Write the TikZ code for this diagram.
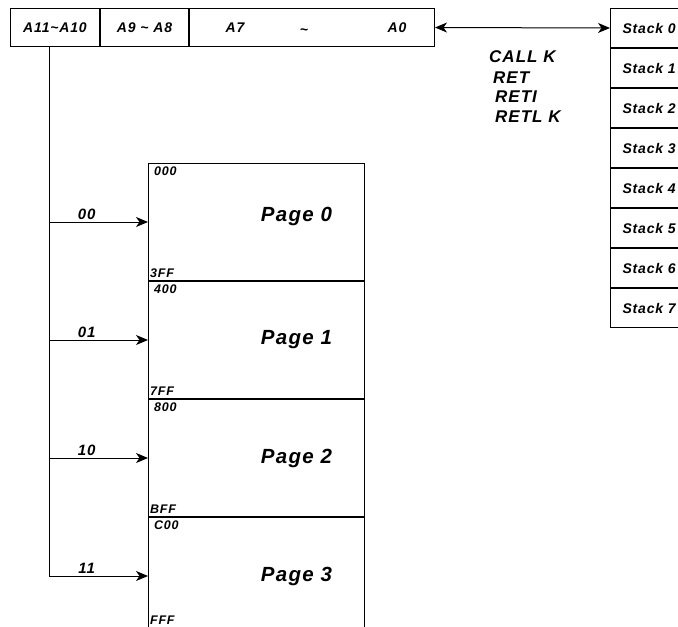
\documentclass[tikz,border=0pt]{standalone}
\usepackage{fontspec}
\setmainfont{Liberation Sans}[LetterSpace=6]
\usetikzlibrary{positioning,arrows.meta}

\begin{document}
\begin{tikzpicture}[x=1pt,y=-1pt]
\tikzstyle{cell}=[rectangle, draw=black, line width=1pt, minimum height=38pt, inner sep=0pt, font=\bfseries\itshape\fontsize{14}{16}\selectfont]
\tikzstyle{regtxt}=[inner sep=0pt, font=\bfseries\itshape\fontsize{14}{16}\selectfont]
\tikzstyle{stackcell}=[rectangle, draw=black, line width=1pt, minimum height=39pt, text width=68pt, inner xsep=12pt, inner ysep=0pt, align=left, font=\bfseries\itshape\fontsize{14}{16}\selectfont]
\tikzstyle{cmd}=[anchor=west, inner sep=0pt, font=\bfseries\itshape\fontsize{17}{19}\selectfont]
\tikzstyle{page}=[rectangle, draw=black, line width=1pt, minimum width=216pt, minimum height=117pt, inner sep=0pt]
\tikzstyle{pglbl}=[inner sep=0pt, font=\bfseries\itshape\fontsize{20.5}{22}\selectfont]
\tikzstyle{addr}=[inner sep=0pt, font=\bfseries\itshape\fontsize{12.5}{14}\selectfont]
\tikzstyle{sel}=[inner sep=2pt, font=\bfseries\itshape\fontsize{15}{17}\selectfont]
\tikzstyle{link}=[line width=1pt, black]
\tikzstyle{tip}=[-{Stealth[length=12pt, width=10pt, inset=3.5pt]}]

  \useasboundingbox (0,0) rectangle (678,627);

  % address register
  \node[cell, minimum width=89pt, anchor=north west] (hi) at (10,8) {A11\textasciitilde A10};
  \node[cell, minimum width=88pt, right=0pt of hi] (mid) {A9 \textasciitilde{} A8};
  \node[cell, minimum width=245pt, right=0pt of mid] (lo) {};
  \node[regtxt] (a7) at ([xshift=46pt]lo.west) {A7};
  \node[regtxt] (tl) at ([xshift=115pt, yshift=-4pt]lo.west) {\textasciitilde};
  \node[regtxt] (a0) at ([xshift=208pt]lo.west) {A0};

  % stack
  \node[stackcell, anchor=north west] (s0) at (610,8) {Stack 0};
  \node[stackcell, below=0pt of s0] (s1) {Stack 1};
  \node[stackcell, below=0pt of s1] (s2) {Stack 2};
  \node[stackcell, below=0pt of s2] (s3) {Stack 3};
  \node[stackcell, below=0pt of s3] (s4) {Stack 4};
  \node[stackcell, below=0pt of s4] (s5) {Stack 5};
  \node[stackcell, below=0pt of s5] (s6) {Stack 6};
  \node[stackcell, below=0pt of s6] (s7) {Stack 7};

  \draw[link, {Stealth[length=12pt, width=10pt, inset=3.5pt]}-{Stealth[length=12pt, width=10pt, inset=3.5pt]}] (lo.east) -- (s0.west);

  % instructions
  \node[cmd] (call) at (489,57) {CALL K};
  \node[cmd] (ret) at (493,78) {RET};
  \node[cmd] (reti) at (495,97) {RETI};
  \node[cmd] (retl) at (495,117) {RETL K};

  % pages
  \node[page, anchor=north west] (p0) at (148,163) {};
  \node[page, below=0pt of p0] (p1) {};
  \node[page, below=0pt of p1] (p2) {};
  \node[page, below=0pt of p2] (p3) {};

  \node[pglbl] at ([xshift=40pt, yshift=6pt]p0.center) {Page 0};
  \node[pglbl] at ([xshift=40pt]p1.center) {Page 1};
  \node[pglbl] at ([xshift=40pt]p2.center) {Page 2};
  \node[pglbl] at ([xshift=40pt]p3.center) {Page 3};

  \node[addr, anchor=north west] at ([xshift=6pt, yshift=-4pt]p0.north west) {000};
  \node[addr, anchor=south west] at ([xshift=2pt, yshift=3pt]p0.south west) {3FF};
  \node[addr, anchor=north west] at ([xshift=6pt, yshift=-4pt]p1.north west) {400};
  \node[addr, anchor=south west] at ([xshift=2pt, yshift=3pt]p1.south west) {7FF};
  \node[addr, anchor=north west] at ([xshift=6pt, yshift=-4pt]p2.north west) {800};
  \node[addr, anchor=south west] at ([xshift=2pt, yshift=3pt]p2.south west) {BFF};
  \node[addr, anchor=north west] at ([xshift=6pt, yshift=-4pt]p3.north west) {C00};
  \node[addr, anchor=south west] at ([xshift=2pt, yshift=10pt]p3.south west) {FFF};

  % page select
  \coordinate (drop) at ([xshift=-6pt]hi.south);
  \draw[link] (drop) -- (drop |- p3.west);
  \foreach \n/\t in {0/00, 1/01, 2/10, 3/11}
    \draw[link, tip] (drop |- p\n.west) -- node[sel, above, pos=0.38] {\t} (p\n.west);

\end{tikzpicture}
\end{document}
